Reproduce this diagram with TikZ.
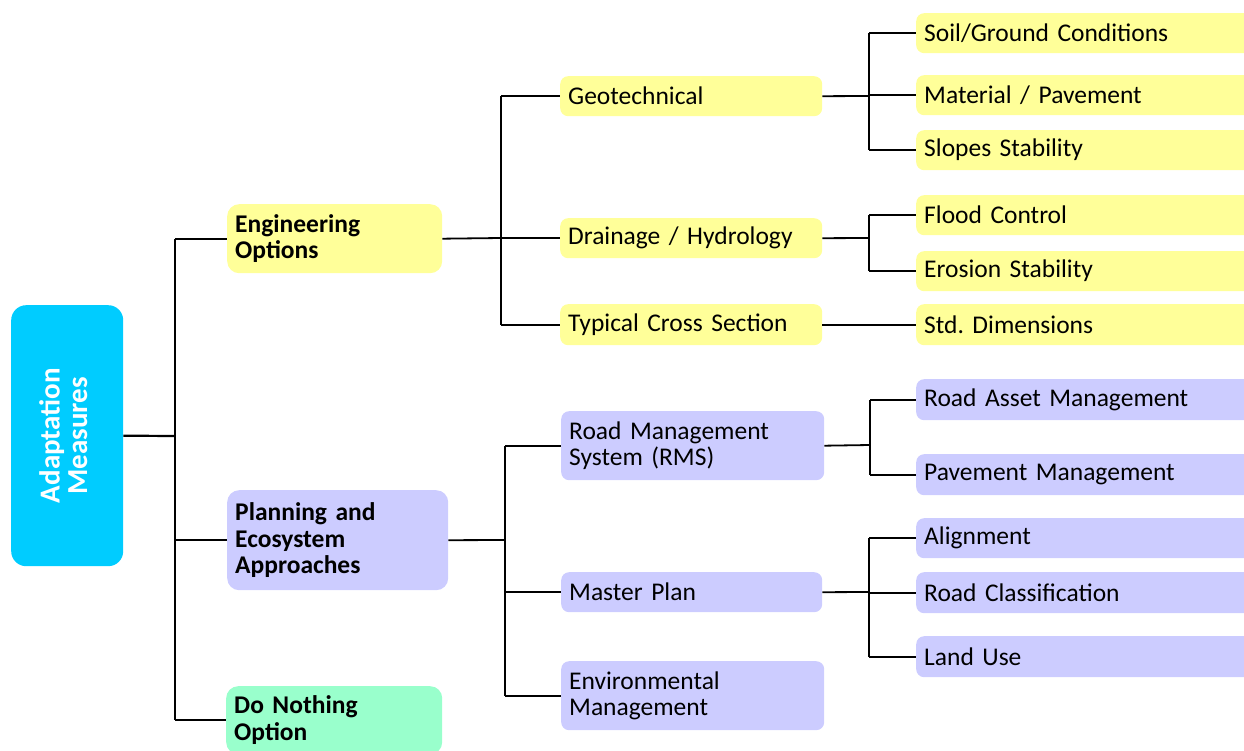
\documentclass[tikz,border=0pt]{standalone}
\usepackage{fontspec}
\setmainfont{Carlito}
\usepackage{graphicx}
\definecolor{cyel}{HTML}{FFFF99}
\definecolor{clav}{HTML}{CCCCFF}
\definecolor{cmint}{HTML}{99FFCC}
\definecolor{ccyan}{HTML}{00CCFF}
\frenchspacing
\begin{document}
\begin{tikzpicture}[x=1pt,y=-1pt,
  box/.style={draw=none, rounded corners=8pt, inner xsep=8pt, inner ysep=0pt,
    anchor=north west, align=left, font=\fontsize{25.5}{26.5}\selectfont, minimum height=40pt},
  yel/.style={box, fill=cyel},
  lav/.style={box, fill=clav},
  lone/.style={rounded corners=12pt, font=\bfseries\fontsize{25.5}{26.5}\selectfont},
  ltwo/.style={text width=246pt},
  lthree/.style={text width=328pt},
  conn/.style={line width=1.8pt}]
\useasboundingbox (0,0) rectangle (1244,751);
\clip (0,0) rectangle (1244,751);
% root
\node[box, fill=ccyan, rounded corners=15pt, text width=96pt, minimum height=261pt,
  align=center, text=white, font=\bfseries\fontsize{29}{27.5}\selectfont] (root) at (11,305)
  {\rotatebox{90}{\begin{tabular}{@{}c@{}}Adaptation\\Measures\end{tabular}}};
% level 1
\node[yel, lone, text width=199pt, minimum height=69pt] (eng) at (227,204) {Engineering\\Options};
\node[lav, lone, text width=205pt, minimum height=100pt] (plan) at (227,490) {Planning and\\Ecosystem\\Approaches};
\node[box, fill=cmint, lone, text width=200pt, minimum height=68pt] (dno) at (226,686) {Do Nothing\\Option};
% level 2
\node[yel, ltwo] (geo) at (560,76) {Geotechnical};
\node[yel, ltwo] (drain) at (560,218) {Drainage / Hydrology};
\node[yel, ltwo, minimum height=41pt] (typ) at (560,304) {Typical Cross Section};
\node[lav, ltwo, text width=247pt, minimum height=69pt] (rms) at (561,411) {Road Management\\System (RMS)};
\node[lav, ltwo, text width=245pt] (mp) at (561,572) {Master Plan};
\node[lav, ltwo, text width=247pt, minimum height=69pt] (env) at (561,661) {Environmental\\Management};
% level 3
\node[yel, lthree] (soil) at (916,13) {Soil/Ground Conditions};
\node[yel, lthree] (mat) at (916,75) {Material / Pavement};
\node[yel, lthree] (slope) at (916,130) {Slopes Stability};
\node[yel, lthree] (flood) at (916,195) {Flood Control};
\node[yel, lthree] (eros) at (916,251) {Erosion Stability};
\node[yel, lthree, minimum height=41pt] (std) at (916,304) {Std. Dimensions};
\node[lav, lthree, minimum height=41pt] (rass) at (916,379) {Road Asset Management};
\node[lav, lthree, minimum height=41pt] (pav) at (916,454) {Pavement Management};
\node[lav, lthree] (aln) at (916,518) {Alignment};
\node[lav, lthree, minimum height=41pt] (rc) at (916,572) {Road Classification};
\node[lav, lthree, minimum height=41pt] (lu) at (916,636) {Land Use};
% junctions
\coordinate (j0) at (175,436);
\coordinate (j1) at (501,238);
\coordinate (j2) at (505,540);
\coordinate (j3) at (869,96);
\coordinate (j4) at (869,238);
\coordinate (j6) at (870,445);
\coordinate (j7) at (869,592);
% connectors
\draw[conn, line width=2.2pt] (root.east) -- (j0);
\draw[conn] (j0 |- eng.west) -- (j0 |- dno.west);
\draw[conn] (j0 |- eng.west) -- (eng.west);
\draw[conn] (j0 |- plan.west) -- (plan.west);
\draw[conn] (j0 |- dno.west) -- (dno.west);
\draw[conn] (eng.east) -- (j1);
\draw[conn] (j1 |- geo.west) -- (j1 |- typ.west);
\draw[conn] (j1 |- geo.west) -- (geo.west);
\draw[conn] (j1 |- drain.west) -- (drain.west);
\draw[conn] (j1 |- typ.west) -- (typ.west);
\draw[conn] (plan.east) -- (j2);
\draw[conn] (j2 |- rms.west) -- (j2 |- env.west);
\draw[conn] (j2 |- rms.west) -- (rms.west);
\draw[conn] (j2 |- mp.west) -- (mp.west);
\draw[conn] (j2 |- env.west) -- (env.west);
\draw[conn] (geo.east) -- (j3);
\draw[conn] (j3 |- soil.west) -- (j3 |- slope.west);
\draw[conn] (j3 |- soil.west) -- (soil.west);
\draw[conn] (j3 |- mat.west) -- (mat.west);
\draw[conn] (j3 |- slope.west) -- (slope.west);
\draw[conn] (drain.east) -- (j4);
\draw[conn] (j4 |- flood.west) -- (j4 |- eros.west);
\draw[conn] (j4 |- flood.west) -- (flood.west);
\draw[conn] (j4 |- eros.west) -- (eros.west);
\draw[conn] (typ.east) -- (std.west);
\draw[conn] (rms.east) -- (j6);
\draw[conn] (j6 |- rass.west) -- (j6 |- pav.west);
\draw[conn] (j6 |- rass.west) -- (rass.west);
\draw[conn] (j6 |- pav.west) -- (pav.west);
\draw[conn] (mp.east) -- (j7);
\draw[conn] (j7 |- aln.west) -- (j7 |- lu.west);
\draw[conn] (j7 |- aln.west) -- (aln.west);
\draw[conn] (j7 |- rc.west) -- (rc.west);
\draw[conn] (j7 |- lu.west) -- (lu.west);
\end{tikzpicture}
\end{document}
